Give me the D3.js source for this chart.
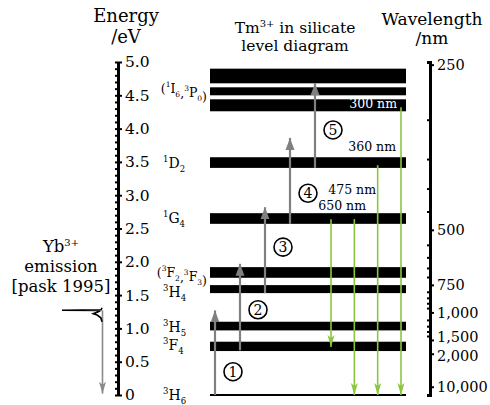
<!DOCTYPE html>
<html>
<head>
<meta charset="utf-8">
<script src="https://cdn.jsdelivr.net/npm/d3@7"></script>
<style>
  body { margin: 0; background: #fff; }
  svg { font-family: "DejaVu Serif", serif; }
</style>
</head>
<body>
<div id="chart"></div>
<script>
// Tm3+ levels: lower / upper edge of each black band, in eV
const bandLo = [0.66, 0.97, 1.53, 1.76, 2.57, 3.41, 4.26, 4.50, 4.68];
const bandHi = [0.80, 1.10, 1.65, 1.92, 2.73, 3.57, 4.44, 4.62, 4.90];

// term symbols ("3H6" -> sup 3, H, sub 6) and where they sit on the energy axis
const levelTerms = ["3H6", "3F4", "3H5", "3H4", "(3F2,3F3)", "1G4", "1D2", "(1I6,3P0)"];
const levelTermE = [0, 0.75, 1.02, 1.55, 1.85, 2.66, 3.48, 4.61];

// upconversion steps (grey), eV
const stepFrom = [0, 0.67, 1.53, 2.57, 3.41];
const stepTo = [1.27, 1.97, 2.82, 3.86, 4.68];
const stepLabelE = [0.35, 1.28, 2.22, 3.03, 3.98];

// emissions (green), eV
const emitFrom = [2.64, 2.64, 3.45, 4.32];
const emitTo = [0.72, 0, 0, 0];
const emitNames = ["300 nm", "360 nm", "475 nm", "650 nm"];
const emitNameE = [4.37, 3.72, 3.08, 2.84];

// Yb3+ emission spectrum (energy eV, relative intensity)
const ybE = [1.31, 1.28, 1.272, 1.268, 1.255, 1.22, 1.20, 1.16, 1.10];
const ybI = [0, 0.02, 1.0, 0.04, 0.08, 0.22, 0.12, 0.03, 0];

// axes
const energyTicks = [0, 0.5, 1, 1.5, 2, 2.5, 3, 3.5, 4, 4.5, 5];
const waveTicks = [250, 500, 750, 1000, 1500, 2000, 10000];
const waveMinor = [300, 350, 400, 450, 550, 600, 650, 700, 800, 850, 900, 950, 1100, 1200, 1300, 1400];

const W = 490, H = 405;
const svg = d3.select("#chart").append("svg")
  .attr("width", W).attr("height", H);

const y = d3.scaleLinear().domain([0, 5]).range([395, 62]);
const toE = nm => 1240 / nm;

// arrow markers
const defs = svg.append("defs");
const marker = (id, d, fill) => defs.append("marker").attr("id", id)
  .attr("markerUnits", "userSpaceOnUse")
  .attr("viewBox", "0 -5 12 10").attr("refX", 12).attr("refY", 0)
  .attr("markerWidth", 12).attr("markerHeight", 10).attr("orient", "auto")
  .append("path").attr("d", d).attr("fill", fill);
marker("hg", "M0,-4.5L12,0L0,4.5Z", "#808080");
marker("hgr", "M0,-3.5L12,0L0,3.5L3,0Z", "#8cc63f");
marker("hyb", "M0,-3.5L12,0L0,3.5L3,0Z", "#8a8a8a");

// ---- titles
const title = (lines, x, y0, dy, fs) => {
  const t = svg.append("text").attr("x", x).attr("y", y0)
    .attr("text-anchor", "middle").attr("font-size", fs);
  lines.forEach((l, i) => {
    const ts = t.append("tspan").attr("x", x).attr("dy", i ? dy : 0);
    l.forEach(p => {
      ts.append("tspan").text(p.t)
        .attr("font-size", p.sup ? 10 : null)
        .attr("baseline-shift", p.sup ? "6" : null);
    });
  });
};
title([[{t: "Energy"}], [{t: "/eV"}]], 126, 22, 21, 18);
title([[{t: "Tm"}, {t: "3+", sup: true}, {t: " in silicate"}], [{t: "level diagram"}]], 295, 33, 18, 15.5);
title([[{t: "Wavelength"}], [{t: "/nm"}]], 432, 25, 19, 17);
title([[{t: "Yb"}, {t: "3+", sup: true}], [{t: "emission"}], [{t: "[pask 1995]"}]], 61, 252, 20, 16.5);

// ---- energy axis
const gEm = svg.append("g").attr("transform", "translate(118,0)");
gEm.call(d3.axisLeft(y).tickValues(d3.range(0, 51).map(i => i / 10))
  .tickSize(3).tickSizeOuter(0).tickFormat(""));
const gE = svg.append("g").attr("transform", "translate(118,0)");
gE.call(d3.axisRight(y).tickValues(energyTicks).tickSize(4).tickPadding(3)
  .tickSizeOuter(0).tickFormat(d => d === 0 ? "0" : d3.format(".1f")(d)));
svg.selectAll("path.domain").attr("stroke-width", 3);
gEm.selectAll("line").attr("stroke-width", 2);
gE.selectAll("line").attr("stroke-width", 2);
gE.selectAll("text").attr("font-size", 15.5).attr("font-family", "DejaVu Serif");

// ---- wavelength axis
const gWm = svg.append("g").attr("transform", "translate(430,0)");
gWm.call(d3.axisLeft(y).tickValues(waveMinor.map(toE)).tickSize(3).tickFormat(""));
const gW = svg.append("g").attr("transform", "translate(430,0)");
gW.call(d3.axisRight(y).tickValues(waveTicks.map(toE)).tickSize(4).tickPadding(3)
  .tickSizeOuter(0).tickFormat(e => d3.format(",")(Math.round(1240 / e))));
gWm.select("path.domain").attr("stroke-width", 3);
gW.select("path.domain").attr("stroke-width", 3);
gWm.selectAll("line").attr("stroke-width", 2);
gW.selectAll("line").attr("stroke-width", 2);
gW.selectAll("text").attr("font-size", 14.5).attr("font-family", "DejaVu Serif")
  .attr("dy", e => {
    const nm = Math.round(1240 / e);
    return nm === 1500 ? "0.12em" : nm === 2000 ? "0.48em" : "0.32em";
  });

// ---- level bands
const x0 = 210, x1 = 406;
svg.append("g").selectAll("rect")
  .data(d3.zip(bandLo, bandHi))
  .join("rect")
  .attr("x", x0).attr("width", x1 - x0)
  .attr("y", d => y(d[1]))
  .attr("height", d => y(d[0]) - y(d[1]))
  .attr("fill", "#000");
svg.append("line")
  .attr("x1", x0).attr("x2", x1).attr("y1", y(0)).attr("y2", y(0))
  .attr("stroke", "#000").attr("stroke-width", 2);

// ---- term labels
const termG = svg.append("g");
levelTerms.forEach((term, i) => {
  const paren = term.startsWith("(");
  const fs = paren ? 12.5 : 14, small = paren ? 7.5 : 8.5;
  const t = termG.append("text")
    .attr("font-size", fs)
    .attr("x", paren ? 207 : 163)
    .attr("y", y(levelTermE[i]) + 5)
    .attr("text-anchor", paren ? "end" : "start");
  const parts = term.match(/\(|\)|,|\d[A-Z]\d/g);
  parts.forEach(p => {
    if (p.length === 3) {
      t.append("tspan").text(p[0]).attr("font-size", small).attr("dy", -6);
      t.append("tspan").text(p[1]).attr("dy", 6);
      t.append("tspan").text(p[2]).attr("font-size", small).attr("dy", 4);
      t.append("tspan").text(paren ? "" : "\u200a").attr("dy", -4);
    } else {
      t.append("tspan").text(p);
    }
  });
});

// ---- upconversion steps
const sx = d3.scalePoint().domain(d3.range(stepFrom.length)).range([215, 315]);
svg.append("g").selectAll("line")
  .data(d3.range(stepFrom.length))
  .join("line")
  .attr("x1", i => sx(i)).attr("x2", i => sx(i))
  .attr("y1", i => y(stepFrom[i])).attr("y2", i => y(stepTo[i]))
  .attr("stroke", "#808080").attr("stroke-width", 2.2)
  .attr("marker-end", "url(#hg)");

const circ = svg.append("g").selectAll("g")
  .data(d3.range(stepLabelE.length))
  .join("g")
  .attr("transform", i => `translate(${sx(i) + 18},${y(stepLabelE[i])})`);
circ.append("circle").attr("r", 9).attr("fill", "#fff")
  .attr("stroke", "#000").attr("stroke-width", 1.6);
circ.append("text").text(i => i + 1)
  .attr("text-anchor", "middle").attr("dy", "0.36em").attr("font-size", 14);

// ---- emissions
const ex = d3.scalePoint().domain(d3.range(emitFrom.length)).range([331, 401]);
svg.append("g").selectAll("line")
  .data(d3.range(emitFrom.length))
  .join("line")
  .attr("x1", i => ex(i)).attr("x2", i => ex(i))
  .attr("y1", i => y(emitFrom[i])).attr("y2", i => y(emitTo[i]))
  .attr("stroke", "#8cc63f").attr("stroke-width", 1.6)
  .attr("marker-end", "url(#hgr)");

const nameEnd = [397, 396, 376, 366];
svg.append("g").attr("font-size", 12.5).selectAll("text")
  .data(emitNames)
  .join("text")
  .attr("x", (d, i) => nameEnd[i])
  .attr("y", (d, i) => y(emitNameE[i]) + 4)
  .attr("text-anchor", "end")
  .attr("fill", (d, i) => i === 0 ? "#fff" : "#000")
  .text(d => d);

// ---- Yb3+ emission spectrum
const ix = d3.scaleLinear().domain([0, 1]).range([102, 62]);
svg.append("line")
  .attr("x1", 102.5).attr("x2", 102.5)
  .attr("y1", y(1.27)).attr("y2", y(0.02))
  .attr("stroke", "#8a8a8a").attr("stroke-width", 1.6)
  .attr("marker-end", "url(#hyb)");
svg.append("path")
  .datum(d3.zip(ybE, ybI))
  .attr("d", d3.line().x(d => ix(d[1])).y(d => y(d[0])))
  .attr("fill", "none").attr("stroke", "#000").attr("stroke-width", 1.6);
</script>
</body>
</html>
